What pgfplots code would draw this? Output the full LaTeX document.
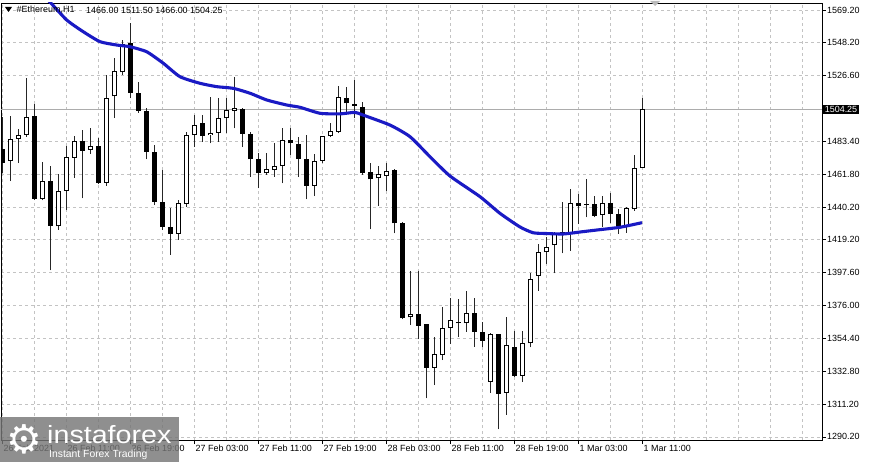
\documentclass[border=0pt]{standalone}
\usepackage{fontspec}
\setmainfont{Liberation Sans}
\newfontfamily\dejavu{DejaVu Sans}
\usepackage{pgfplots}
\pgfplotsset{compat=1.18}
\usepackage{pgfplotstable}

\definecolor{maBlue}{RGB}{26,26,196}
\definecolor{gridGray}{RGB}{195,195,195}
\definecolor{logoGray}{RGB}{118,118,118}

% bullish candles (close > open): i open high low close
\pgfplotstableread{
i o h l c
1 1470.8 1500.2 1457.3 1485.1
2 1485.1 1491.5 1469.2 1487.8
3 1487.8 1524.8 1486.5 1499.3
5 1445.7 1469.7 1444.8 1457.7
7 1427.8 1462.3 1425.5 1451.2
8 1451.2 1480.1 1438.7 1473.0
9 1472.5 1486.7 1459.4 1483.4
11 1477.9 1492.1 1475.1 1480.1
13 1456.2 1527.0 1454.4 1511.7
14 1512.8 1537.8 1498.6 1529.1
15 1528.5 1549.6 1527.0 1547.0
22 1422.8 1445.0 1418.9 1442.9
23 1442.4 1489.7 1440.6 1487.5
24 1487.5 1500.6 1479.5 1494.0
26 1487.5 1512.5 1482.1 1489.0
27 1489.0 1511.5 1483.1 1498.4
28 1498.4 1511.5 1488.6 1503.8
29 1503.2 1525.6 1491.9 1505.0
33 1462.5 1475.5 1461.4 1465.1
34 1464.6 1482.1 1460.2 1467.2
35 1467.2 1491.9 1455.9 1484.2
39 1454.2 1475.1 1447.6 1470.7
40 1470.7 1487.0 1469.0 1486.8
41 1486.8 1495.5 1486.0 1490.1
42 1489.7 1519.7 1488.6 1512.5
47 1459.2 1467.2 1441.1 1462.0
48 1460.7 1469.4 1451.1 1464.2
51 1368.3 1398.8 1363.3 1370.3
54 1335.4 1355.7 1324.1 1344.2
55 1343.7 1374.9 1340.4 1361.2
56 1361.2 1380.8 1350.9 1366.6
58 1364.4 1385.7 1359.0 1371.4
61 1326.2 1358.0 1319.1 1357.2
63 1319.1 1368.7 1304.5 1350.2
65 1330.2 1359.6 1326.3 1351.3
66 1351.3 1397.1 1348.7 1393.2
67 1395.6 1416.3 1385.7 1410.8
68 1410.8 1421.0 1403.2 1414.5
69 1415.6 1424.0 1397.1 1423.6
71 1422.8 1452.0 1411.9 1443.3
75 1435.2 1447.6 1427.2 1443.3
78 1427.2 1440.6 1423.6 1439.6
79 1438.9 1474.4 1438.0 1465.7
80 1466.00 1511.50 1466.00 1504.25
}\bull

% bearish candles (close < open)
\pgfplotstableread{
i o h l c
0 1478.4 1499.0 1462.5 1469.2
4 1500.2 1508.0 1445.0 1445.9
6 1457.3 1467.1 1399.1 1428.3
10 1483.4 1491.0 1446.1 1477.3
12 1480.6 1485.6 1455.7 1456.2
16 1547.8 1560.5 1511.5 1514.8
17 1514.8 1522.4 1501.9 1503.2
18 1503.2 1505.1 1471.6 1476.6
19 1476.6 1481.0 1441.7 1443.9
20 1443.9 1464.6 1425.4 1427.6
21 1427.6 1439.6 1409.1 1422.8
25 1495.1 1500.6 1483.1 1486.8
30 1504.3 1505.0 1479.5 1488.2
31 1488.2 1489.7 1460.2 1471.6
32 1471.8 1475.5 1452.6 1462.9
36 1484.2 1491.9 1474.4 1482.1
37 1481.6 1486.4 1459.9 1471.8
38 1471.8 1487.5 1445.5 1454.2
43 1511.5 1519.1 1501.7 1508.2
44 1507.8 1523.5 1498.4 1506.5
45 1506.0 1509.3 1461.4 1462.9
46 1463.5 1469.0 1425.9 1458.5
49 1464.6 1465.0 1423.2 1429.8
50 1430.2 1430.5 1367.0 1367.7
52 1370.3 1398.8 1353.9 1362.7
53 1364.0 1364.3 1315.4 1335.4
57 1365.5 1380.1 1355.7 1364.4
59 1371.4 1380.8 1349.1 1359.0
60 1359.0 1365.5 1348.7 1353.1
62 1357.2 1357.5 1295.1 1318.2
64 1349.1 1359.6 1329.5 1330.2
70 1424.1 1443.9 1410.2 1422.8
72 1443.3 1448.9 1429.3 1441.1
73 1442.4 1458.5 1433.7 1441.7
74 1442.2 1447.6 1433.7 1434.6
76 1443.3 1449.8 1430.2 1435.9
77 1435.9 1438.9 1422.8 1427.2
}\bear

\pgfplotsset{candle/.style={draw=none, mark=none, forget plot,
  error bars/.cd, y dir=plus, y explicit, error mark=none}}

\begin{document}
\begin{tikzpicture}
\path[use as bounding box] (0,0) rectangle (870bp,462bp);
\begin{axis}[
  at={(1bp,22bp)}, anchor=south west,
  scale only axis, width=821bp, height=437bp,
  xmin=-0.125, xmax=102.5, ymin=1288.16, ymax=1573.78,
  axis line style={black, line width=0.9bp},
  xtick={0,8,...,80},
  xticklabels={26 Feb 2021, 26 Feb 11:00, 26 Feb 19:00, 27 Feb 03:00, 27 Feb 11:00, 27 Feb 19:00, 28 Feb 03:00, 28 Feb 11:00, 28 Feb 19:00, 1 Mar 03:00, 1 Mar 11:00},
  minor xtick={4,12,20,28,36,44,52,60,68,76,84,88,92,96,100},
  ytick={1290.2,1311.2,1332.8,1354.4,1376.0,1397.6,1419.2,1440.2,1461.8,1483.4,1526.6,1548.2,1569.2},
  yticklabels={1290.20,1311.20,1332.80,1354.40,1376.00,1397.60,1419.20,1440.20,1461.80,1483.40,1526.60,1548.20,1569.20},
  xtick pos=bottom, ytick pos=right, yticklabel pos=right,
  tick align=outside, major tick length=4bp, minor tick length=0pt,
  tick style={black, line width=0.6bp},
  grid=both,
  major grid style={gridGray, dash pattern=on 3bp off 3bp, line width=0.6bp},
  minor grid style={gridGray, dash pattern=on 3bp off 3bp, line width=0.6bp},
  ticklabel style={font=\fontsize{9}{10}\selectfont, inner sep=1bp},
  xticklabel style={anchor=north west, xshift=0.5bp},
  yticklabel style={anchor=west},
  /pgf/number format/assume math mode=true,
]
% current price line
\addplot[gray!65, line width=0.8bp, forget plot] coordinates {(-0.125,1504.25) (102.5,1504.25)};

% wicks
\addplot[candle, error bar style={draw=black!85, line width=1bp, solid}]
  table[x=i, y=l, y error expr={\thisrow{h}-\thisrow{l}}] {\bull};
\addplot[candle, error bar style={draw=black!85, line width=1bp, solid}]
  table[x=i, y=l, y error expr={\thisrow{h}-\thisrow{l}}] {\bear};

% bearish bodies
\addplot[candle, error bar style={draw=black, line width=5bp, solid}]
  table[x=i, y=c, y error expr={\thisrow{o}-\thisrow{c}}] {\bear};

% bullish bodies: black outline then white inside
\addplot[candle, error bar style={draw=black, line width=5bp, solid}]
  table[x=i, y=o, y error expr={\thisrow{c}-\thisrow{o}}] {\bull};
\addplot[candle, error bar style={draw=white, line width=3bp, solid}]
  table[x=i, y expr={\thisrow{o}+0.654}, y error expr={max(\thisrow{c}-\thisrow{o}-1.308,0)}] {\bull};

% moving average
\addplot[maBlue, line width=3.1bp, smooth, tension=0.35, forget plot] coordinates {
(4.5,1580.0) (5.75,1575.7) (8.08,1562.7) (10.16,1555.0) (12.25,1548.5) (14.34,1546.3)
(16,1545.2) (18.09,1541.9) (20.16,1534.4) (22.25,1525.6) (24.75,1521.3) (26.84,1519.1)
(28.91,1518.0) (31,1514.8) (33.09,1510.4) (35.59,1507.1) (37.25,1505.6) (39.75,1501.7)
(42.25,1501.3) (44.1,1502.3) (45.1,1500.6) (48.5,1494.0) (51,1486.4) (53.5,1473.3)
(56,1460.7) (59.75,1447.2) (62.25,1436.3) (64.75,1427.4) (66.4,1423.6) (68.1,1423.1)
(70.16,1422.8) (72.25,1424.1) (74.34,1425.4) (77.25,1427.2) (80,1430.2)
};

\coordinate (pl) at (axis cs:102.5,1504.25);
\end{axis}

% current price label
\node[fill=black, text=white, anchor=west, inner xsep=2bp, inner ysep=1.2bp,
  font=\fontsize{9}{10}\selectfont, xshift=0.6bp] at (pl) {1504.25};

% header
\fill[black] (5bp,455bp) -- (12bp,455bp) -- (8.5bp,450bp) -- cycle;
\node[anchor=west, inner sep=0, font=\fontsize{9}{10}\selectfont] at (16.5bp,452bp) {\#Ethereum,H1};
\node[anchor=west, inner sep=0, font=\fontsize{9}{10}\selectfont] at (86bp,452bp) {1466.00 1511.50 1466.00 1504.25};

% chart shift marker
\fill[gray!55] (650bp,461bp) -- (660bp,461bp) -- (655bp,456bp) -- cycle;

% watermark
\fill[logoGray, fill opacity=0.82] (0,0) rectangle (179bp,45bp);
\node[text=white, inner sep=0, font=\dejavu\fontsize{40}{40}\selectfont] at (24bp,23bp) {⚙};
\node[text=white, anchor=base west, inner sep=0, font=\fontsize{25}{25}\selectfont, xscale=1.15] at (47bp,19bp) {instaforex};
\node[text=white!92, anchor=base west, inner sep=0, font=\fontsize{10.4}{11}\selectfont] at (49bp,5bp) {Instant Forex Trading};
\end{tikzpicture}
\end{document}
